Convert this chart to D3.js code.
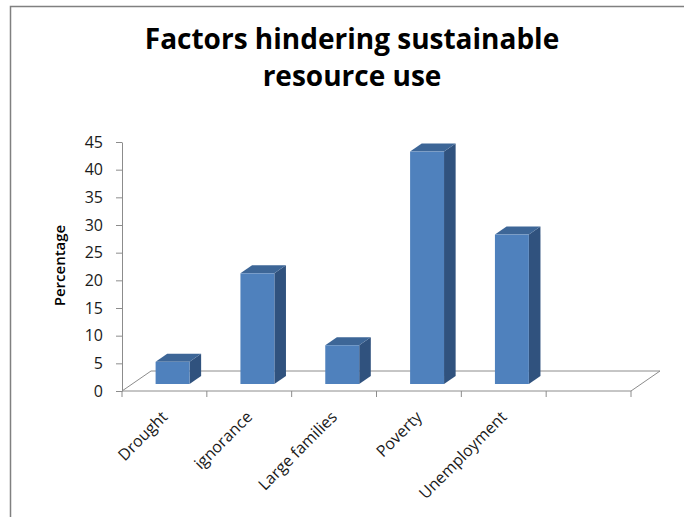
<!DOCTYPE html>
<html>
<head>
<meta charset="utf-8">
<script src="https://cdn.jsdelivr.net/npm/d3@7"></script>
<style>
  html, body { margin: 0; padding: 0; background: #fff; }
  svg { display: block; }
</style>
</head>
<body>
<svg id="chart" width="684" height="517"></svg>
<script>
// ---- data ----
const categories = ["Drought", "ignorance", "Large families", "Poverty", "Unemployment"];
const values = [4, 20, 7, 42, 27];
const yTicks = [0, 5, 10, 15, 20, 25, 30, 35, 40, 45];
const titleLines = ["Factors hindering sustainable", "resource use"];
const yTitle = "Percentage";

// ---- layout ----
const W = 684, H = 517;
const svg = d3.select("#chart");
const FONT = "'Open Sans', 'DejaVu Sans', sans-serif";
const floorDepth = { dx: 29, dy: -20 };
const z0 = 0.35, z1 = 0.75;
const barNudge = -2;
const colors = { front: "#4f81bd", top: "#3d6697", side: "#30527e", axis: "#8c8c8c" };

// outer frame (left and top edges visible)
svg.append("path")
  .attr("d", `M10.5,${H} V6.5 H${W}`)
  .attr("fill", "none").attr("stroke", "#808080").attr("stroke-width", 1.5);

// title
svg.append("g").selectAll("text").data(titleLines).join("text")
  .attr("x", 352).attr("y", (d, i) => 49 + i * 37)
  .attr("text-anchor", "middle")
  .attr("font-family", FONT).attr("font-weight", 700).attr("font-size", 28)
  .attr("fill", "#000")
  .text(d => d);

// scales (one empty slot after the last category)
const slots = categories.concat([" "]);
const x = d3.scaleBand().domain(slots).range([122, 631]).paddingInner(0.6).paddingOuter(0.3);
const y = d3.scaleLinear().domain([0, 45]).range([391, 142]);
const bw = x.bandwidth(), step = x.step();

// floor
const x0 = x.range()[0], x1 = x.range()[1], yb0 = y(0);
svg.append("polygon")
  .attr("points", [[x0, yb0], [x1, yb0], [x1 + floorDepth.dx, yb0 + floorDepth.dy], [x0 + floorDepth.dx, yb0 + floorDepth.dy]].map(p => p.join(",")).join(" "))
  .attr("fill", "none").attr("stroke", colors.axis).attr("stroke-width", 1);

// y axis
const yAxis = d3.axisLeft(y).tickValues(yTicks).tickSize(6).tickSizeOuter(0).tickPadding(13);
const gy = svg.append("g").attr("transform", `translate(${x0},0)`).call(yAxis);
gy.select(".domain").attr("stroke", colors.axis);
gy.selectAll(".tick line").attr("stroke", colors.axis);
gy.selectAll(".tick text").attr("font-family", FONT).attr("font-size", 16).attr("fill", "#1a1a1a");

// x axis ticks at slot boundaries
const bounds = d3.range(slots.length + 1).map(i => x0 + i * step);
svg.append("g").selectAll("line").data(bounds).join("line")
  .attr("x1", d => d).attr("x2", d => d).attr("y1", yb0).attr("y2", yb0 + 6)
  .attr("stroke", colors.axis);

// bars (3D boxes)
const ddx = (z1 - z0) * floorDepth.dx, ddy = (z1 - z0) * floorDepth.dy;
const bars = svg.append("g").selectAll("g").data(categories.map((c, i) => ({ c, v: values[i] }))).join("g");
bars.each(function (d) {
  const g = d3.select(this);
  const xf = x(d.c) + z0 * floorDepth.dx + barNudge;
  const yb = y(0) + z0 * floorDepth.dy;
  const yt = y(d.v) + z0 * floorDepth.dy;
  g.append("polygon")
    .attr("points", [[xf + bw, yt], [xf + bw + ddx, yt + ddy], [xf + bw + ddx, yb + ddy], [xf + bw, yb]].map(p => p.join(",")).join(" "))
    .attr("fill", colors.side);
  g.append("polygon")
    .attr("points", [[xf, yt], [xf + bw, yt], [xf + bw + ddx, yt + ddy], [xf + ddx, yt + ddy]].map(p => p.join(",")).join(" "))
    .attr("fill", colors.top);
  g.append("rect")
    .attr("x", xf).attr("y", yt).attr("width", bw).attr("height", yb - yt)
    .attr("fill", colors.front);
});

// category labels, rotated
svg.append("g").selectAll("text").data(categories).join("text")
  .attr("transform", d => `translate(${x(d) + bw / 2 + 4},418) rotate(-45)`)
  .attr("text-anchor", "end")
  .attr("font-family", FONT).attr("font-size", 16).attr("fill", "#1a1a1a")
  .text(d => d);

// y axis title
svg.append("text")
  .attr("transform", "translate(65,265.5) rotate(-90)")
  .attr("text-anchor", "middle")
  .attr("font-family", FONT).attr("font-weight", 600).attr("font-size", 15)
  .attr("fill", "#000")
  .text(yTitle);
</script>
</body>
</html>
